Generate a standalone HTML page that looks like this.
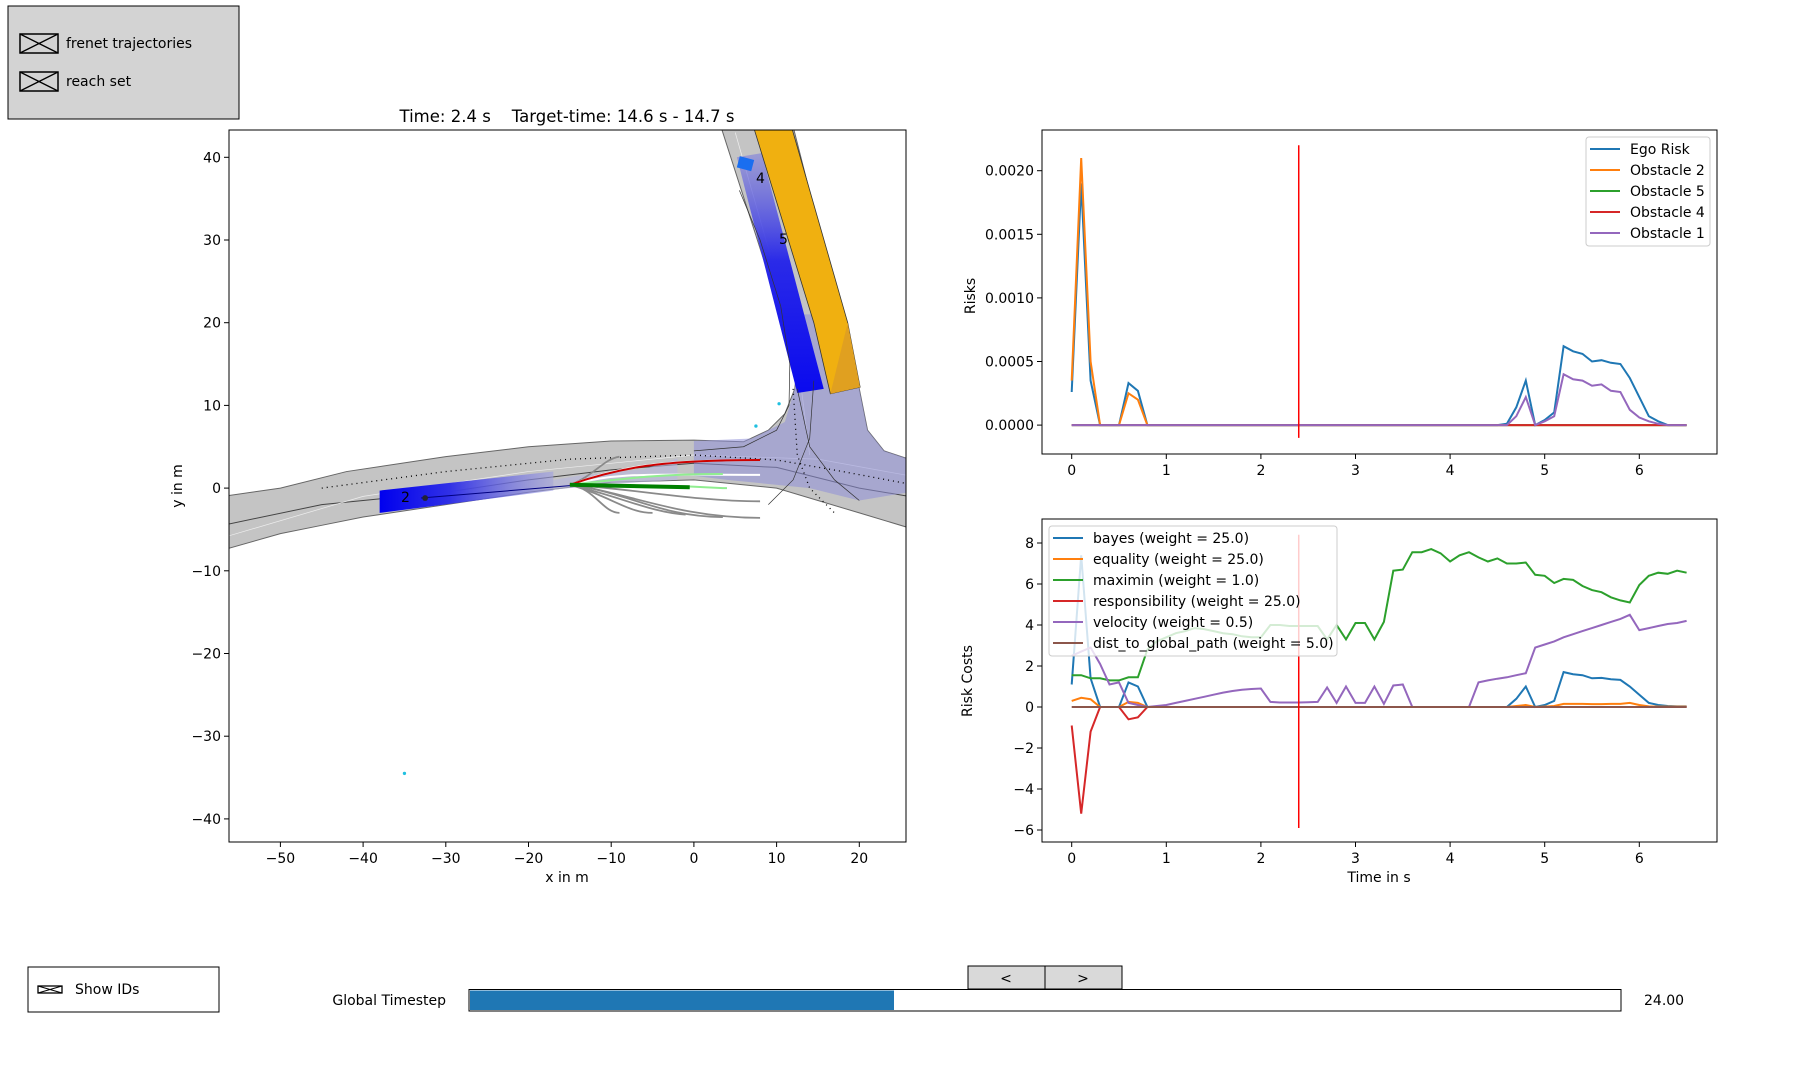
<!DOCTYPE html>
<html><head><meta charset="utf-8">
<style>
body{margin:0;background:#fff;}
svg{display:block;font-family:"DejaVu Sans","Liberation Sans",sans-serif;}
</style></head>
<body>
<svg id="root" width="1802" height="1080" viewBox="0 0 1802 1080" xmlns="http://www.w3.org/2000/svg">
<defs>
<clipPath id="mapclip"><rect x="229" y="130" width="677" height="712"/></clipPath>
<linearGradient id="hgrad" x1="0" y1="0" x2="1" y2="0"><stop offset="0" stop-color="#0000ee"/><stop offset="0.4" stop-color="#3030e6"/><stop offset="1" stop-color="#a0a0e0" stop-opacity="0.6"/></linearGradient>
<linearGradient id="vgrad" x1="0" y1="0" x2="0" y2="1"><stop offset="0" stop-color="#0a0aee"/><stop offset="0.55" stop-color="#2a2ae8"/><stop offset="1" stop-color="#8080dd" stop-opacity="0.6"/></linearGradient>
</defs>

<g>
<rect x="8" y="6" width="231" height="113" fill="#d3d3d3" stroke="#000" stroke-width="1"/>
<g>
<rect x="20" y="34" width="38" height="19" fill="none" stroke="#000" stroke-width="1.5"/>
<line x1="20" y1="34" x2="58" y2="53" stroke="#000" stroke-width="1.3"/><line x1="20" y1="53" x2="58" y2="34" stroke="#000" stroke-width="1.3"/>
<text x="66" y="48" font-size="14">frenet trajectories</text></g>
<g>
<rect x="20" y="72" width="38" height="19" fill="none" stroke="#000" stroke-width="1.5"/>
<line x1="20" y1="72" x2="58" y2="91" stroke="#000" stroke-width="1.3"/><line x1="20" y1="91" x2="58" y2="72" stroke="#000" stroke-width="1.3"/>
<text x="66" y="86" font-size="14">reach set</text></g>
</g>

<text x="567" y="122" font-size="16.5" text-anchor="middle" xml:space="preserve" style="white-space:pre">Time: 2.4 s    Target-time: 14.6 s - 14.7 s</text>

<g clip-path="url(#mapclip)">
<g transform="translate(693.9,488.1) scale(8.27,-8.27)">
<path d="M-57,-1 L-50,0 L-42,2 L-30,3.8 L-20,5 L-10,5.7 L0,5.8 L6,5.6 L9,7 L11,9 L12.2,12 L12.5,15 L3.3,43.6 L7.5,43.7 L12,43.7 L17.5,22 L20,12 L21,7 L23,4.5 L26,3.5 L26,-4.8 L20,-3 L10,0 L0,1 L-10,0.7 L-20,-0.5 L-30,-2 L-40,-3.5 L-45,-4.5 L-50,-5.5 L-57,-7.5 Z" fill="#c4c4c4" stroke="#666" stroke-width="1" vector-effect="non-scaling-stroke"/>
<path d="M-57,-4.5 L-45,-2 L-30,-0.5 L-20,1 L-10,2.2 L0,3 L10,2.5 L20,0 L26,-1" fill="none" stroke="#444" stroke-width="1" vector-effect="non-scaling-stroke"/>
<path d="M-57,-6 L-40,-1 L-20,2 L0,4 L15,3.5 L26,1.5 M5,43 L11,22 L13,12 L14,4" fill="none" stroke="#eee" stroke-width="0.7" vector-effect="non-scaling-stroke"/>
<path d="M0,5.7 L7,6 L11,8 L12.2,12 L12.5,15 L13,21 L18,21 L20,12 L21,7 L23,4.5 L26,3.5 L26,-0.5 L20,-1.5 L14,0 L4,1 L0,1.5 Z" fill="#9090d8" opacity="0.55"/>
<path d="M-17,-0.2 L-10,0.5 L-5,0.8 L-2,1 L-2,3.6 L-6,2.3 L-14,1.5 L-17,1 Z" fill="#b8b8e0" opacity="0.6"/>
<path d="M-38,-3 L-17,-0.3 L-17,2 L-38,-0.3 Z" fill="url(#hgrad)"/>
<path d="M5.2,40 L8.2,40.5 L15.7,12 L12.5,11.5 Z" fill="url(#vgrad)"/>
<rect x="5.4" y="38.6" width="1.8" height="1.4" fill="#1a6ef0" transform="rotate(-15 6 39.5)"/>
<path d="M7.2,43.7 L11.8,43.7 L18.6,20 L20.1,12.2 L16.5,11.4 L14.5,20 Z" fill="#f0b010" stroke="#333" stroke-width="0.8" vector-effect="non-scaling-stroke"/>
<path d="M18.6,20 L20.1,12.2 L16.5,11.4 Z" fill="#e0a020"/>
<path d="M5.5,36 L8,30 L10.5,22 L11.6,15 L11.5,10 L10,7 L6,5 L0,4.5" fill="none" stroke="#333" stroke-width="0.7" vector-effect="non-scaling-stroke"/>
<path d="M14.5,13 L14,6 L12,1 L9,-2" fill="none" stroke="#333" stroke-width="0.7" vector-effect="non-scaling-stroke"/>
<path d="M12.5,12 L14,5 L17,1 L20,-1.5" fill="none" stroke="#333" stroke-width="0.7" vector-effect="non-scaling-stroke"/>
<path d="M-45,0 L-30,2 L-15,3.5 L0,4 L10,3.4 L18,2 L26,0.5 M12,12 L12.5,4 L14,0 L17,-3" fill="none" stroke="#000" stroke-width="1.3" stroke-dasharray="1,4" vector-effect="non-scaling-stroke"/>
<g fill="none" stroke="#8a8a8a" stroke-width="1.8">
<path d="M-15,0.4 C-12,0 -11,-3 -9,-3" vector-effect="non-scaling-stroke"/>
<path d="M-15,0.4 C-10,-1 -8,-3 -5,-3" vector-effect="non-scaling-stroke"/>
<path d="M-15,0.4 C-9,-1 -5,-3 -1,-3.2" vector-effect="non-scaling-stroke"/>
<path d="M-15,0.4 C-8,-0.5 -4,-3.5 3.5,-3.5" vector-effect="non-scaling-stroke"/>
<path d="M-15,0.4 C-8,-0.5 -2,-3.6 8,-3.6" vector-effect="non-scaling-stroke"/>
<path d="M-15,0.4 C-8,0 0,-1.6 8,-1.6" vector-effect="non-scaling-stroke"/>
<path d="M-15,0.4 C-12,1.5 -11,3.5 -9,3.8" vector-effect="non-scaling-stroke"/>
</g>
<path d="M-15,0.4 C-9,2.5 -5,3.4 8,3.4" fill="none" stroke="#fff" stroke-width="2" vector-effect="non-scaling-stroke"/>
<path d="M-15,0.4 C-9,2 -5,1.6 8,1.6" fill="none" stroke="#fff" stroke-width="2" vector-effect="non-scaling-stroke"/>
<path d="M-15,0.4 C-8,1.2 -4,1.7 3.5,1.7" fill="none" stroke="#90ee90" stroke-width="2" vector-effect="non-scaling-stroke"/>
<path d="M3.5,0 L8,0" fill="none" stroke="#fff" stroke-width="2" vector-effect="non-scaling-stroke"/>
<path d="M-15,0.4 C-9,2.5 -4,3.4 8,3.4" fill="none" stroke="#cc0000" stroke-width="2" vector-effect="non-scaling-stroke"/>
<path d="M-0.5,0.2 L3.5,0 L4,0" fill="none" stroke="#90ee90" stroke-width="2" vector-effect="non-scaling-stroke"/>
<path d="M-15,0.4 L-0.5,0.1" fill="none" stroke="#008000" stroke-width="4" vector-effect="non-scaling-stroke"/>
<path d="M-33,-1.2 L-15,0.3" fill="none" stroke="#000080" stroke-width="1" vector-effect="non-scaling-stroke"/>
<circle cx="-32.5" cy="-1.2" r="0.35" fill="#223"/>
<circle cx="7.5" cy="7.5" r="0.2" fill="#20c0e0"/><circle cx="10.3" cy="10.2" r="0.2" fill="#20c0e0"/><circle cx="-35" cy="-34.5" r="0.2" fill="#20c0e0"/>
</g>
<text x="401" y="502" font-size="14">2</text>
<text x="756" y="183" font-size="14">4</text>
<text x="779" y="244" font-size="14">5</text>
</g>
<rect x="229" y="130" width="677" height="712" fill="none" stroke="#000" stroke-width="1"/>
<g id="mapticks"></g>
<text x="567" y="882" font-size="14" text-anchor="middle">x in m</text>
<text transform="translate(182,486) rotate(-90)" font-size="14" text-anchor="middle">y in m</text>

<g id="riskchart"></g>
<g id="costchart"></g>

<g>
<rect x="28" y="967" width="191" height="45" fill="#fff" stroke="#000"/>
<rect x="38" y="986" width="24" height="7" fill="none" stroke="#000" stroke-width="1.3"/>
<line x1="38" y1="986" x2="62" y2="993" stroke="#000"/><line x1="38" y1="993" x2="62" y2="986" stroke="#000"/>
<text x="75" y="994" font-size="14">Show IDs</text></g>
<g><rect x="968" y="966" width="77" height="23" fill="#d9d9d9" stroke="#000"/><text x="1006" y="983" font-size="14" text-anchor="middle">&lt;</text></g>
<g><rect x="1045" y="966" width="77" height="23" fill="#d9d9d9" stroke="#000"/><text x="1083" y="983" font-size="14" text-anchor="middle">&gt;</text></g>
<text x="446" y="1005" font-size="14" text-anchor="end">Global Timestep</text>
<g>
<rect x="469" y="989.5" width="1152" height="21.5" fill="#fff" stroke="#000"/>
<rect x="470" y="990.5" width="424" height="19.5" fill="#1f77b4"/></g>
<text x="1644" y="1005" font-size="14">24.00</text>
</svg>
<script>
// ---------- data ----------
const times = [];
for (let i = 0; i <= 65; i++) times.push(i / 10);
const egoRisk = [0.00026,0.0019,0.00035,0,0,0,0.00033,0.00027,0,0,0,0,0,0,0,0,0,0,0,0,0,0,0,0,0,0,0,0,0,0,0,0,0,0,0,0,0,0,0,0,0,0,0,0,0,0,0.00001,0.00014,0.00035,0,0.00004,0.0001,0.00062,0.00058,0.00056,0.0005,0.00051,0.00049,0.00048,0.00037,0.00022,0.00007,0.00003,0,0,0];
const obstacle2 = [0.00035,0.0021,0.0005,0,0,0,0.00025,0.0002,0,0,0,0,0,0,0,0,0,0,0,0,0,0,0,0,0,0,0,0,0,0,0,0,0,0,0,0,0,0,0,0,0,0,0,0,0,0,0,0,0,0,0,0,0,0,0,0,0,0,0,0,0,0,0,0,0,0];
const obstacle5 = times.map(() => 0);
const obstacle4 = times.map(() => 0);
const obstacle1 = [0,0,0,0,0,0,0,0,0,0,0,0,0,0,0,0,0,0,0,0,0,0,0,0,0,0,0,0,0,0,0,0,0,0,0,0,0,0,0,0,0,0,0,0,0,0,0,0.00007,0.00022,0,0.00003,0.00007,0.0004,0.00036,0.00035,0.00031,0.00032,0.00027,0.00026,0.00012,0.00006,0.00003,0.00001,0,0,0];
const riskTicksX = [0,1,2,3,4,5,6];
const riskTicksY = [0,0.0005,0.001,0.0015,0.002];
const riskTickLabels = ["0.0000","0.0005","0.0010","0.0015","0.0020"];
const bayes = [1.1,7.4,1.4,0,0,0,1.2,1.0,0,0,0,0,0,0,0,0,0,0,0,0,0,0,0,0,0,0,0,0,0,0,0,0,0,0,0,0,0,0,0,0,0,0,0,0,0,0,0,0.4,1.0,0,0.1,0.3,1.7,1.6,1.55,1.4,1.42,1.35,1.32,1.0,0.6,0.2,0.1,0.05,0.03,0.03];
const equality = [0.3,0.45,0.38,0,0,0,0.25,0.2,0,0,0,0,0,0,0,0,0,0,0,0,0,0,0,0,0,0,0,0,0,0,0,0,0,0,0,0,0,0,0,0,0,0,0,0,0,0,0,0.05,0.1,0,0.02,0.05,0.15,0.15,0.15,0.14,0.14,0.15,0.15,0.2,0.1,0.03,0.02,0.02,0.02,0.02];
const maximin = [1.55,1.55,1.4,1.4,1.3,1.3,1.45,1.45,2.8,3.2,3.4,3.6,3.7,3.85,3.8,3.7,3.6,3.55,3.45,3.4,3.4,4.0,4.0,3.95,3.95,3.95,3.95,3.3,4.0,3.3,4.1,4.1,3.3,4.15,6.65,6.7,7.55,7.55,7.7,7.5,7.1,7.4,7.55,7.3,7.1,7.25,7.0,7.0,7.05,6.45,6.4,6.05,6.25,6.2,5.9,5.7,5.6,5.35,5.2,5.1,5.95,6.4,6.55,6.5,6.65,6.55];
const responsibility = [-0.9,-5.2,-1.2,0,0,0,-0.6,-0.5,0,0,0,0,0,0,0,0,0,0,0,0,0,0,0,0,0,0,0,0,0,0,0,0,0,0,0,0,0,0,0,0,0,0,0,0,0,0,0,0,0,0,0,0,0,0,0,0,0,0,0,0,0,0,0,0,0,0];
const velocity = [2.5,2.7,2.9,2.1,1.1,1.2,0.2,0.1,0,0.05,0.1,0.2,0.3,0.4,0.5,0.6,0.7,0.78,0.84,0.88,0.9,0.25,0.22,0.22,0.22,0.23,0.25,0.95,0.2,1.0,0.2,0.2,1.0,0.15,1.05,1.1,0,0,0,0,0,0,0,1.2,1.3,1.38,1.45,1.55,1.65,2.9,3.05,3.2,3.4,3.55,3.7,3.85,4.0,4.15,4.3,4.5,3.75,3.85,3.95,4.05,4.1,4.2];
const distToGlobal = times.map(() => 0);
const costTicksY = [-6,-4,-2,0,2,4,6,8];
const costTickLabels = ["\u22126","\u22124","\u22122","0","2","4","6","8"];
const currentTime = [2.4];
const mapTicksX = [-50,-40,-30,-20,-10,0,10,20];
const mapTicksY = [-40,-30,-20,-10,0,10,20,30,40];
const mapTickLabelsX = ["\u221250","\u221240","\u221230","\u221220","\u221210","0","10","20"];
const mapTickLabelsY = ["\u221240","\u221230","\u221220","\u221210","0","10","20","30","40"];

const NS = "http://www.w3.org/2000/svg";
function mk(tag, attrs, parent){const e=document.createElementNS(NS,tag);for(const k in attrs)e.setAttribute(k,attrs[k]);parent.appendChild(e);return e;}

const mt = document.getElementById('mapticks');
const mx = x => 693.9 + 8.27*x, my = y => 488.1 - 8.27*y;
mapTicksX.forEach((v,i)=>{const l=mk('line',{x1:mx(v),x2:mx(v),y1:842,y2:847,stroke:'#000'},mt);
 
 
 const t=mk('text',{x:mx(v),y:863,'font-size':14,'text-anchor':'middle'},mt);t.textContent=mapTickLabelsX[i];
 
 });
mapTicksY.forEach((v,i)=>{const l=mk('line',{x1:224,x2:229,y1:my(v),y2:my(v),stroke:'#000'},mt);
 
 
 const t=mk('text',{x:221,y:my(v)+5,'font-size':14,'text-anchor':'end'},mt);t.textContent=mapTickLabelsY[i];
 
 });

function chart(g, box, y0px, y1px, yv0, yv1, ticksY, labelsY, series, legend, ylabel, xlabel, vline){
  const xs = t => 1071.7 + t*94.6;
  const ys = v => y0px + (v - yv0)*(y1px - y0px)/(yv1 - yv0);
  const bottom = box[1]+box[3];
  riskTicksX.forEach(v=>{const l=mk('line',{x1:xs(v),x2:xs(v),y1:bottom,y2:bottom+5,stroke:'#000'},g);
   
   
   const t=mk('text',{x:xs(v),y:bottom+21,'font-size':14,'text-anchor':'middle'},g);t.textContent=String(v);
   
   });
  ticksY.forEach((v,i)=>{const l=mk('line',{x1:box[0]-5,x2:box[0],y1:ys(v),y2:ys(v),stroke:'#000'},g);
   
   
   const t=mk('text',{x:box[0]-8,y:ys(v)+5,'font-size':14,'text-anchor':'end'},g);t.textContent=labelsY[i];
   
   });
  series.forEach(s=>{const p=mk('polyline',{points:s.data.map((v,i)=>xs(times[i]).toFixed(1)+','+ys(v).toFixed(1)).join(' '),fill:'none',stroke:s.color,'stroke-width':2},g);
   
   });
  const vl=mk('line',{x1:xs(currentTime[0]),x2:xs(currentTime[0]),y1:ys(vline[0]),y2:ys(vline[1]),stroke:'#ff0000','stroke-width':1.5},g);
  
  
  mk('rect',{x:box[0],y:box[1],width:box[2],height:box[3],fill:'none',stroke:'#000'},g);
  const lg=mk('g',{},g);
  
  
  mk('rect',{x:legend.x,y:legend.y,width:legend.w,height:legend.h,rx:3,fill:'rgba(255,255,255,0.8)',stroke:'#ccc'},lg);
  series.forEach((s,i)=>{const yy=legend.y+12+i*21;
    const e=mk('g',{},lg);
    
    
    mk('line',{x1:legend.x+4,x2:legend.x+34,y1:yy,y2:yy,stroke:s.color,'stroke-width':2},e);
    const t=mk('text',{x:legend.x+44,y:yy+5,'font-size':14},e);t.textContent=s.label;});
  const yl=mk('text',{transform:`translate(${ylabel.x},${ylabel.y}) rotate(-90)`,'font-size':14,'text-anchor':'middle'},g);yl.textContent=ylabel.t;
  
  
  if(xlabel){const xl=mk('text',{x:1379,y:882,'font-size':14,'text-anchor':'middle'},g);xl.textContent=xlabel;
   
   }
}
chart(document.getElementById('riskchart'),[1042,130,675,324],425.1,170.7,0,0.002,riskTicksY,riskTickLabels,
 [{name:'ego-risk',label:'Ego Risk',color:'#1f77b4',data:egoRisk},
  {name:'obstacle-2',label:'Obstacle 2',color:'#ff7f0e',data:obstacle2},
  {name:'obstacle-5',label:'Obstacle 5',color:'#2ca02c',data:obstacle5},
  {name:'obstacle-4',label:'Obstacle 4',color:'#d62728',data:obstacle4},
  {name:'obstacle-1',label:'Obstacle 1',color:'#9467bd',data:obstacle1}],
 {x:1586,y:137,w:124,h:109},{x:975,y:296,t:'Risks'},null,[-0.0001,0.0022]);
chart(document.getElementById('costchart'),[1042,519,675,323],707,543,0,8,costTicksY,costTickLabels,
 [{name:'bayes',label:'bayes (weight = 25.0)',color:'#1f77b4',data:bayes},
  {name:'equality',label:'equality (weight = 25.0)',color:'#ff7f0e',data:equality},
  {name:'maximin',label:'maximin (weight = 1.0)',color:'#2ca02c',data:maximin},
  {name:'responsibility',label:'responsibility (weight = 25.0)',color:'#d62728',data:responsibility},
  {name:'velocity',label:'velocity (weight = 0.5)',color:'#9467bd',data:velocity},
  {name:'dist-to-global-path',label:'dist_to_global_path (weight = 5.0)',color:'#8c564b',data:distToGlobal}],
 {x:1049,y:526,w:288,h:130},{x:972,y:681,t:'Risk Costs'},'Time in s',[-5.9,8.4]);
</script>
</body></html>
